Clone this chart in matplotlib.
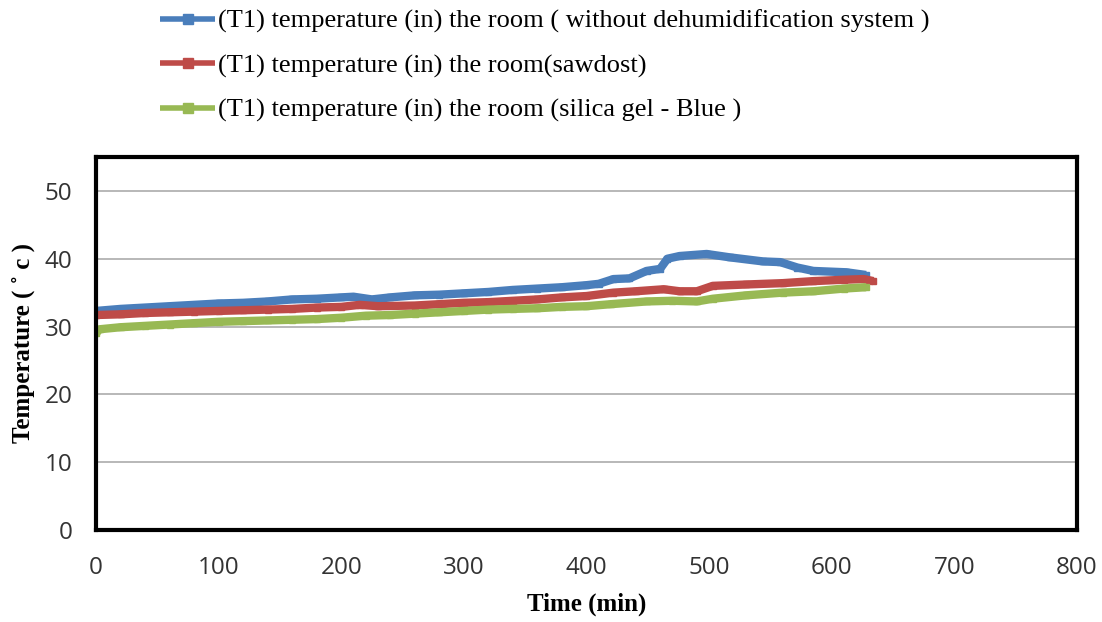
import matplotlib.pyplot as plt
import numpy as np

# time (min) and room temperature (deg C) for each case
t_none = [0, 20, 40, 60, 80, 100, 120, 140, 160, 180, 200, 210, 225, 240, 260, 280,
          300, 320, 340, 360, 380, 400, 410, 422, 435, 449, 460, 466, 476, 498,
          517, 544, 558, 572, 585, 612, 628]
temp_none = [32.3, 32.6, 32.8, 33.0, 33.2, 33.4, 33.5, 33.7, 34.0, 34.1, 34.3, 34.4,
             34.0, 34.3, 34.6, 34.7, 34.9, 35.1, 35.4, 35.6, 35.8, 36.1, 36.3, 37.0,
             37.1, 38.2, 38.5, 40.0, 40.4, 40.7, 40.2, 39.6, 39.5, 38.7, 38.2, 38.0, 37.6]

t_saw = [0, 20, 40, 60, 80, 100, 120, 140, 160, 180, 200, 215, 230, 260, 280, 300,
         320, 340, 360, 380, 400, 422, 440, 463, 476, 490, 503, 530, 560, 585, 610,
         626, 634]
temp_saw = [31.7, 31.8, 32.0, 32.1, 32.2, 32.3, 32.4, 32.5, 32.6, 32.8, 32.9, 33.2,
            33.0, 33.1, 33.3, 33.5, 33.6, 33.8, 34.0, 34.3, 34.5, 35.0, 35.2, 35.5,
            35.2, 35.2, 36.0, 36.2, 36.4, 36.7, 36.9, 37.0, 36.7]

t_silica = [0, 3, 20, 40, 60, 80, 100, 120, 140, 160, 180, 200, 220, 240, 260, 280,
            300, 320, 340, 360, 380, 400, 420, 449, 470, 490, 503, 530, 560, 585,
            610, 628]
temp_silica = [29.0, 29.6, 29.9, 30.1, 30.3, 30.5, 30.7, 30.8, 30.9, 31.0, 31.1, 31.3,
               31.6, 31.7, 31.9, 32.1, 32.3, 32.5, 32.6, 32.7, 32.9, 33.0, 33.3, 33.7,
               33.8, 33.7, 34.1, 34.6, 35.0, 35.2, 35.6, 35.8]

labels = ['(T1) temperature (in) the room ( without dehumidification system )',
          '(T1) temperature (in) the room(sawdost)',
          '(T1) temperature (in) the room (silica gel - Blue )']
colors = ['#4A7EBB', '#BE4B48', '#98B954']

fig = plt.figure(figsize=(11.02, 6.22), dpi=100)
ax = fig.add_axes([0.0871, 0.1479, 0.8902, 0.5997])

series = [(t_none, temp_none), (t_saw, temp_saw), (t_silica, temp_silica)]
for (t, y), lab, c in zip(series, labels, colors):
    ax.plot(t, y, color=c, lw=6, marker='s', ms=5, label=lab,
            solid_capstyle='butt')

ax.set_xlim(0, 800)
ax.set_ylim(0, 55)
ax.set_xticks(np.arange(0, 801, 100))
ax.set_yticks(np.arange(0, 51, 10))
ax.grid(axis='y', color='#ababab', lw=1.2)
ax.set_axisbelow(True)
ax.tick_params(length=0, labelsize=17.5)
ax.tick_params(axis='x', pad=19)
ax.tick_params(axis='y', pad=17)
for lbl in ax.get_xticklabels() + ax.get_yticklabels():
    lbl.set_fontfamily('Open Sans')
    lbl.set_color('#333333')
for sp in ax.spines.values():
    sp.set_linewidth(3)
    sp.set_color('black')

ax.set_xlabel('Time (min)', family='Liberation Serif', fontweight='bold', fontsize=18, labelpad=9)
ax.set_ylabel('Temperature ( ˚ c )', family='Liberation Serif', fontweight='bold', fontsize=18, labelpad=7)

# legend sits above the plot box, like the original chart
leg = fig.legend(loc='upper left', bbox_to_anchor=(0.1452, 0.985), frameon=False,
                 prop={'family': 'Liberation Serif', 'size': 19}, handlelength=2.1,
                 handletextpad=0.1, labelspacing=0.78, borderpad=0, borderaxespad=0)
for h in leg.legend_handles:
    h.set_linewidth(4)
    h.set_markersize(6.5)

fig.savefig('out.png', dpi=100)
